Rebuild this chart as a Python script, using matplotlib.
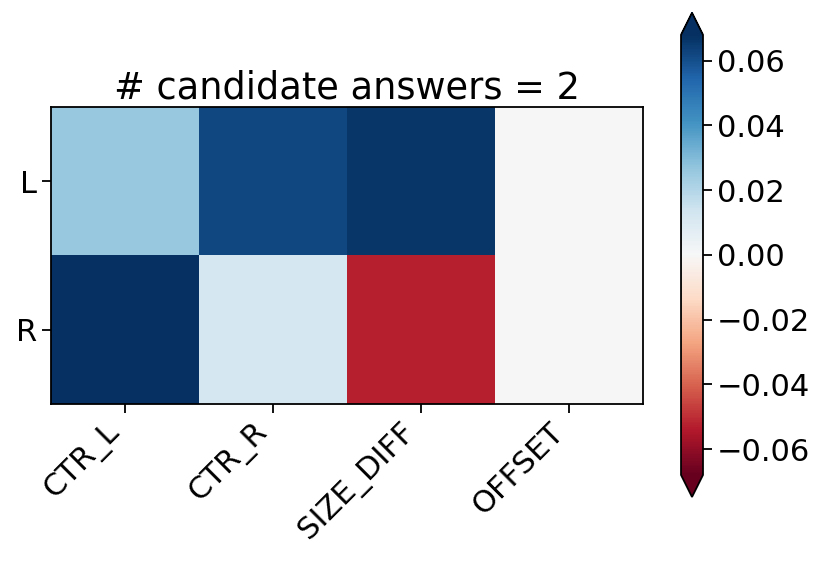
import numpy as np
import matplotlib
matplotlib.use('Agg')
import matplotlib.pyplot as plt

features = ['CTR_L', 'CTR_R', 'SIZE_DIFF', 'OFFSET']
sides = ['L', 'R']
coef_L = [0.026, 0.062, 0.066, 0.0]
coef_R = [0.072, 0.012, -0.053, 0.0]
n_answers = 2
limit = 0.068

values = np.array([coef_L, coef_R])

plt.rcParams['font.size'] = 22
plt.rcParams['axes.linewidth'] = 1.3

fig = plt.figure(figsize=(8.29, 5.65), dpi=100)
ax = fig.add_axes([0.0615, 0.285, 0.714, 0.5257])
cax = fig.add_axes([0.8215, 0.1204, 0.0265, 0.857])

im = ax.imshow(values, cmap='RdBu', vmin=-limit, vmax=limit, aspect='auto')
ax.set_xticks(range(len(features)))
ax.set_xticklabels(features, rotation=45, ha='right')
ax.set_yticks(range(len(sides)))
ax.set_yticklabels(sides)
ax.tick_params(length=6.5, width=1.3)
ax.set_title('# candidate answers = %d' % n_answers, fontsize=26.5)

cb = fig.colorbar(im, cax=cax, extend='both')
cb.set_ticks([-0.06, -0.04, -0.02, 0.0, 0.02, 0.04, 0.06])
cb.ax.tick_params(length=6.5, width=1.3)
cb.outline.set_linewidth(1.3)

fig.savefig('out.png', dpi=100)
